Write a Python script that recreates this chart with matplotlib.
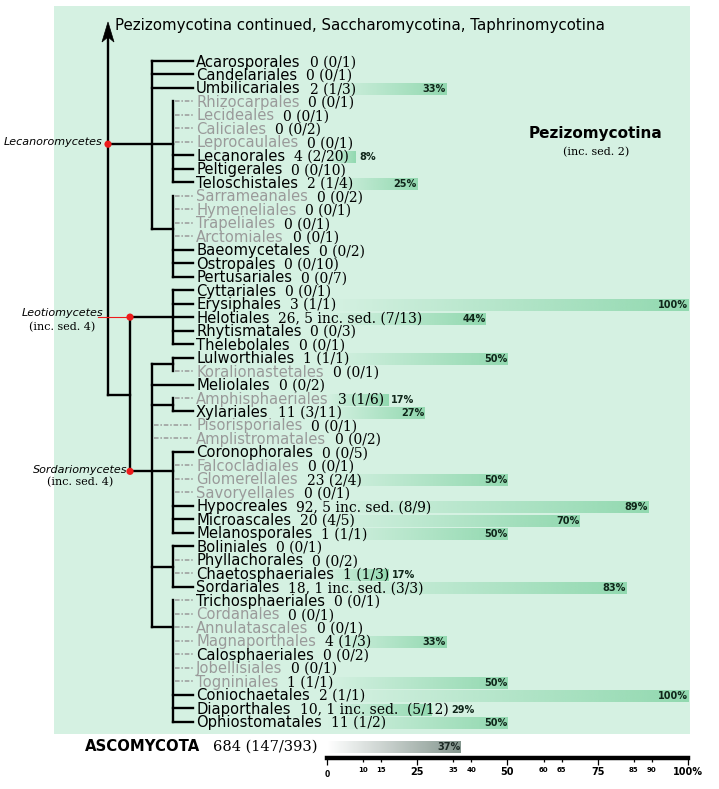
import matplotlib
matplotlib.use("Agg")
import matplotlib.pyplot as plt
import numpy as np
from matplotlib.patches import Rectangle, Circle, Polygon
from matplotlib.ticker import FixedLocator, FixedFormatter
from matplotlib.colors import to_rgb

# ---------------- data ----------------
orders = ["Acarosporales", "Candelariales", "Umbilicariales", "Rhizocarpales", "Lecideales",
          "Caliciales", "Leprocaulales", "Lecanorales", "Peltigerales", "Teloschistales",
          "Sarrameanales", "Hymeneliales", "Trapeliales", "Arctomiales", "Baeomycetales",
          "Ostropales", "Pertusariales", "Cyttariales", "Erysiphales", "Helotiales",
          "Rhytismatales", "Thelebolales", "Lulworthiales", "Koralionastetales", "Meliolales",
          "Amphisphaeriales", "Xylariales", "Pisorisporiales", "Amplistromatales", "Coronophorales",
          "Falcocladiales", "Glomerellales", "Savoryellales", "Hypocreales", "Microascales",
          "Melanosporales", "Boliniales", "Phyllachorales", "Chaetosphaeriales", "Sordariales",
          "Trichosphaeriales", "Cordanales", "Annulatascales", "Magnaporthales", "Calosphaeriales",
          "Jobellisiales", "Togniniales", "Coniochaetales", "Diaporthales", "Ophiostomatales"]
counts = ["0 (0/1)", "0 (0/1)", "2 (1/3)", "0 (0/1)", "0 (0/1)",
          "0 (0/2)", "0 (0/1)", "4 (2/20)", "0 (0/10)", "2 (1/4)",
          "0 (0/2)", "0 (0/1)", "0 (0/1)", "0 (0/1)", "0 (0/2)",
          "0 (0/10)", "0 (0/7)", "0 (0/1)", "3 (1/1)", "26, 5 inc. sed. (7/13)",
          "0 (0/3)", "0 (0/1)", "1 (1/1)", "0 (0/1)", "0 (0/2)",
          "3 (1/6)", "11 (3/11)", "0 (0/1)", "0 (0/2)", "0 (0/5)",
          "0 (0/1)", "23 (2/4)", "0 (0/1)", "92, 5 inc. sed. (8/9)", "20 (4/5)",
          "1 (1/1)", "0 (0/1)", "0 (0/2)", "1 (1/3)", "18, 1 inc. sed. (3/3)",
          "0 (0/1)", "0 (0/1)", "0 (0/1)", "4 (1/3)", "0 (0/2)",
          "0 (0/1)", "1 (1/1)", "2 (1/1)", "10, 1 inc. sed.  (5/12)", "11 (1/2)"]
percent = [None, None, 33, None, None, None, None, 8, None, 25,
           None, None, None, None, None, None, None, None, 100, 44,
           None, None, 50, None, None, 17, 27, None, None, None,
           None, 50, None, 89, 70, 50, None, None, 17, 83,
           None, None, None, 33, None, None, 50, 100, 29, 50]
gray_name = [0, 0, 0, 1, 1, 1, 1, 0, 0, 0,
             1, 1, 1, 1, 0, 0, 0, 0, 0, 0,
             0, 0, 0, 1, 0, 1, 0, 1, 1, 0,
             1, 1, 1, 0, 0, 0, 0, 0, 0, 0,
             0, 1, 1, 1, 0, 1, 1, 0, 0, 0]
dashed = [0, 0, 0, 1, 1, 1, 1, 0, 0, 0,
          1, 1, 1, 1, 0, 0, 0, 0, 0, 0,
          0, 0, 0, 1, 0, 1, 0, 1, 1, 0,
          1, 1, 1, 0, 0, 0, 0, 1, 1, 0,
          1, 1, 1, 1, 1, 1, 1, 0, 0, 0]
attach_node = [1, 1, 1] + [0] * 21 + [1, 0, 0, 1, 1] + [0] * 21   # 1 -> attaches to inner node line
total_label = "ASCOMYCOTA"
total_count = "684 (147/393)"
total_percent = 37
major_ticks = [0, 25, 50, 75, 100]
major_labels = ["0", "25", "50", "75", "100%"]
minor_ticks = [10, 15, 35, 40, 60, 65, 85, 90]
minor_labels = ["10", "15", "35", "40", "60", "65", "85", "90"]

# ---------------- layout ----------------
W, H = 719, 789
fig = plt.figure(figsize=(W / 100, H / 100), dpi=100)

def px_axes(z):
    a = fig.add_axes([0, 0, 1, 1], zorder=z)
    a.set_xlim(0, W)
    a.set_ylim(H, 0)
    a.axis("off")
    a.patch.set_visible(False)
    return a

ax_bg = px_axes(0)
axb = fig.add_axes([0, 0, 1, 1], zorder=1)
axb.patch.set_visible(False)
PCT0, PCTW = 327, 3.61
XL = (-PCT0 / PCTW, (W - PCT0) / PCTW)
ax = px_axes(2)

BG = "#d5f1e2"
GREEN = np.array(to_rgb("#92d9b0"))
GRAYBAR = np.array(to_rgb("#84968e"))
GRAYTXT = "#9a9a9a"
RED = "#ee1c1c"
ax_bg.add_patch(Rectangle((54, 6), 636, 728, facecolor=BG, edgecolor="none"))

ROW0, ROWH = 61, 13.48
def ry(r):
    return ROW0 + ROWH * r

X_MAIN, X_CLASS, X_NODE, X_SUB, X_TIP = 108, 130, 152, 173, 193
LW = 1.7

def seg(x0, y0, x1, y1):
    ax.plot([x0, x1], [y0, y1], color="k", lw=LW, solid_capstyle="projecting")

# row connectors
for i in range(len(orders)):
    y = ry(i)
    xs = X_NODE if attach_node[i] else X_SUB
    if dashed[i]:
        ax.plot([xs + 2, X_TIP], [y, y], color=GRAYTXT, lw=1.1, ls=(0, (3, 1.2, 1, 1.2)))
    else:
        seg(xs, y, X_TIP, y)

# groups: first row, last row, junction row, origin x
groups = [(3, 9, 6.17, X_MAIN), (10, 16, 12.46, X_NODE), (17, 21, 19, X_CLASS),
          (22, 23, 22.5, X_NODE), (25, 26, 25.5, X_NODE), (29, 35, 30.44, X_CLASS),
          (36, 39, 37.5, X_NODE), (40, 49, 42.0, X_NODE)]
for a, b, j, xo in groups:
    seg(X_SUB, ry(a), X_SUB, ry(b))
    seg(xo, ry(j), X_SUB, ry(j))
seg(X_NODE, ry(0), X_NODE, ry(12.46))
seg(X_NODE, ry(22.5), X_NODE, ry(42.0))
seg(X_CLASS, ry(19), X_CLASS, ry(30.44))
seg(X_MAIN, ry(24.78), X_CLASS, ry(24.78))
seg(X_MAIN, ry(24.78), X_MAIN, 36)
ax.add_patch(Polygon([(X_MAIN, 22), (X_MAIN + 6, 42), (X_MAIN, 37), (X_MAIN - 6, 42)],
                     closed=True, facecolor="k", edgecolor="k", lw=0.5))

# class nodes
ax.plot([98, X_CLASS], [ry(19), ry(19)], color=RED, lw=0.8, zorder=3)
for cx, cy in [(X_MAIN, ry(6.17)), (X_CLASS, ry(19)), (X_CLASS, ry(30.44))]:
    ax.add_patch(Circle((cx, cy), 3.6, facecolor=RED, edgecolor="none", zorder=4))

ax.text(102, ry(6.17) - 2, "Lecanoromycetes", fontsize=8, style="italic", ha="right", va="center")
ax.text(103, 313, "Leotiomycetes", fontsize=8, style="italic", ha="right", va="center")
ax.text(62, 327, "(inc. sed. 4)", fontsize=8, family="DejaVu Serif", ha="center", va="center")
ax.text(127, 469.5, "Sordariomycetes", fontsize=8, style="italic", ha="right", va="center")
ax.text(80, 482, "(inc. sed. 4)", fontsize=8, family="DejaVu Serif", ha="center", va="center")

ax.text(115, 30, "Pezizomycotina continued, Saccharomycotina, Taphrinomycotina",
        fontsize=10.8, ha="left", va="baseline")
ax.text(596, 137.5, "Pezizomycotina", fontsize=11, weight="bold", ha="center", va="baseline")
ax.text(596, 152, "(inc. sed. 2)", fontsize=8, family="DejaVu Serif", ha="center", va="center")

# names
name_txt = []
for i, nm in enumerate(orders):
    t = ax.text(196, ry(i) + 5.5, nm, fontsize=10.6, color=GRAYTXT if gray_name[i] else "k",
                ha="left", va="baseline")
    name_txt.append(t)
fig.canvas.draw()
rend = fig.canvas.get_renderer()
inv = ax.transData.inverted()
num_txt = []
for i, t in enumerate(name_txt):
    bb = t.get_window_extent(rend)
    xe = inv.transform((bb.x1, bb.y0))[0]
    nt = ax.text(xe + 9, ry(i) + 5.5, counts[i], fontsize=10, family="DejaVu Serif",
                 color="k", ha="left", va="baseline")
    num_txt.append(nt)

ax.text(85, 751, total_label, fontsize=10.7, weight="bold", ha="left", va="baseline")
ax.text(213, 751, total_count, fontsize=10.5, family="DejaVu Serif", ha="left", va="baseline")

# ---------------- bars ----------------
def grad_bar(x1, yc, h, color):
    n = 256
    img = np.zeros((1, n, 4))
    img[..., :3] = color
    img[..., 3] = np.linspace(0, 1, n)
    axb.imshow(img, extent=(0, x1, yc + h / 2, yc - h / 2), aspect="auto",
               interpolation="bilinear", zorder=1)

BAR_H = 12
for i, p in enumerate(percent):
    if p is None:
        continue
    grad_bar(p, ry(i) + 1.5, BAR_H, GREEN)
grad_bar(total_percent, 747, BAR_H, GRAYBAR)

axb.set_xlim(*XL)
axb.set_ylim(H, 0)

# axis
for s in ["left", "right", "top"]:
    axb.spines[s].set_visible(False)
axb.spines["bottom"].set_position(("data", 758))
axb.spines["bottom"].set_bounds(0, 100)
axb.spines["bottom"].set_linewidth(3.2)
axb.yaxis.set_visible(False)
axb.xaxis.set_major_locator(FixedLocator(major_ticks))
axb.xaxis.set_major_formatter(FixedFormatter(major_labels))
axb.xaxis.set_minor_locator(FixedLocator(minor_ticks))
axb.xaxis.set_minor_formatter(FixedFormatter(minor_labels))
axb.tick_params(axis="x", which="major", length=5, width=0.9, pad=1.5, labelsize=7)
axb.tick_params(axis="x", which="minor", length=3, width=0.9, pad=3.5, labelsize=5)
for lab in axb.xaxis.get_majorticklabels() + axb.xaxis.get_minorticklabels():
    lab.set_fontweight("bold")

fig.canvas.draw()
rend = fig.canvas.get_renderer()
majt = axb.xaxis.get_major_ticks()
majt[0].tick1line.set_markeredgewidth(2.4)
majt[0].label1.set_fontsize(5.5)
majt[0].set_pad(3.5)

# percentage labels
invb = axb.transData.inverted()
px1 = 1 / PCTW
LABC = "#10261a"
for i, p in enumerate(percent):
    if p is None:
        continue
    lt = axb.text(p - 0.4 * px1, ry(i) + 1.5, f"{p}%", fontsize=7, weight="bold",
                  color=LABC, ha="right", va="center", zorder=3)
    lb = lt.get_window_extent(rend)
    nb = num_txt[i].get_window_extent(rend)
    if lb.x0 < nb.x1 + 2:
        nend = invb.transform((nb.x1, 0))[0]
        lt.set_x(max(p, nend) + 3 * px1)
        lt.set_ha("left")
axb.text(total_percent - 0.4 * px1, 747, f"{total_percent}%", fontsize=7, weight="bold",
         color="#1e2a26", ha="right", va="center", zorder=3)

fig.savefig("out.png", dpi=100)
